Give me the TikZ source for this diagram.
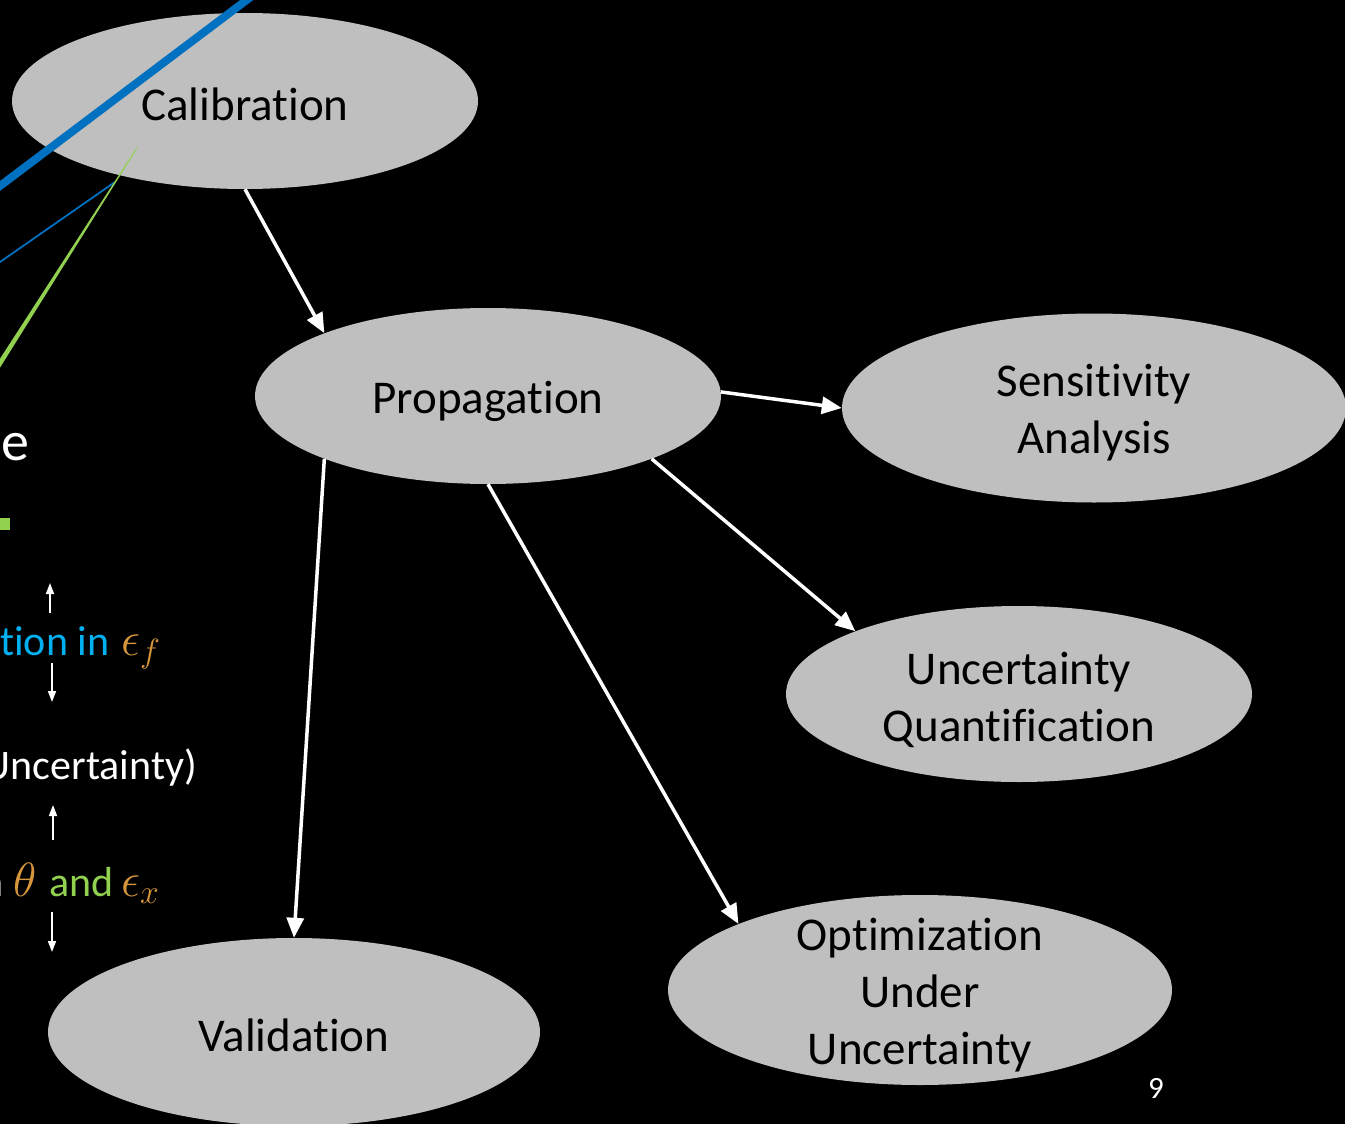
\RequirePackage{fix-cm}
\documentclass[tikz,border=0pt]{standalone}
\usepackage{fontspec}
\setmainfont{Carlito}[Ligatures=NoCommon, Contextuals=NoAlternate]
\usetikzlibrary{shapes.geometric,arrows.meta}
\definecolor{ellgray}{HTML}{BFBFBF}
\definecolor{cyantext}{HTML}{00B0F0}
\definecolor{orangem}{RGB}{214,150,60}
\definecolor{limeg}{HTML}{92D050}
\definecolor{blueline}{HTML}{0070C0}
\begin{document}
\begin{tikzpicture}[x=1pt,y=-1pt,
  bubble/.style={ellipse, fill=ellgray, inner sep=0pt, draw=none},
  btext/.style={inner sep=0pt, align=center, text=black, font=\fontsize{47}{57}\selectfont},
  flow/.style={draw=white, line width=3.5pt, -{Triangle[length=20pt,width=17pt]}},
  smallarr/.style={draw=white, line width=1.6pt, -{Triangle[length=11pt,width=8pt]}},
  side/.style={inner sep=0pt, font=\fontsize{42}{50}\selectfont},
  mathside/.style={inner sep=0pt, font=\fontsize{48}{54}\selectfont}]
\useasboundingbox (0,0) rectangle (1345,1124);
\fill[black] (0,0) rectangle (1345,1124);
\clip (0,0) rectangle (1345,1124);

% ellipses
\node[bubble, minimum width=466pt, minimum height=176pt] (cal) at (245,101) {};
\node[bubble, minimum width=466pt, minimum height=176pt] (prop) at (488,396) {};
\node[bubble, minimum width=504pt, minimum height=189pt] (sens) at (1094,408) {};
\node[bubble, minimum width=466pt, minimum height=176pt] (uq) at (1019,694) {};
\node[bubble, minimum width=504pt, minimum height=190pt] (ouu) at (920,990) {};
\node[bubble, minimum width=492pt, minimum height=188pt] (val) at (294,1032) {};

% texts
\node[btext] (caltxt) at (245,104) {Calibration};
\node[btext] (proptxt) at (488,401) {Propagation};
\node[btext] (senstxt) at (1094,413) {Sensitivity\\Analysis};
\node[btext] (uqtxt) at (1019,700) {Uncertainty\\Quantification};
\node[btext] (ouutxt) at (920,995) {Optimization\\Under\\Uncertainty};
\node[btext] (valtxt) at (294,1035) {Validation};

% connectors
\draw[flow] (cal.south) -- (prop.159.5);
\draw[flow] (prop.1) -- (sens.west);
\draw[flow] (prop.-21) -- (uq.159.5);
\draw[flow] (prop.south) -- (ouu.160);
\draw[flow] (prop.201) -- (val.north);

% left decorative lines
\coordinate (bA) at (-10,193.5);
\coordinate (bB) at (260,-10);
\draw[blueline, line width=8pt] (bA) -- (bB);
\coordinate (tA) at (-5,265.5);
\coordinate (tB) at (115,182);
\draw[blueline, line width=1.8pt] (tA) -- (tB);
\fill[limeg] (-7.1,369.7) -- (-2.9,372.3) -- (137.4,148) -- (136.6,147.6) -- cycle;

% left side text
\node[side, text=white, anchor=base east] (etxt) at (30,460) {\fontsize{56}{60}\selectfont e};
\fill[limeg] (0,518) rectangle (10,530);
\node[side, text=cyantext, anchor=base west] (line1) at (0,655) {tion in};
\node[mathside, text=orangem, anchor=base west] (epsf) at (121,655) {$\epsilon_f$};
\node[side, text=white, anchor=base east] (line2) at (197,779) {Uncertainty)};
\node[side, text=white, anchor=base east] (nchar) at (4,896) {n};
\node[mathside, text=orangem, anchor=base west] (thet) at (13,896) {$\theta$};
\node[side, text=limeg, anchor=base west] (andw) at (49,896) {and};
\node[mathside, text=orangem, anchor=base west] (epsx) at (121,896) {$\epsilon_x$};

% small arrows
\coordinate (u1t) at (50,613); \coordinate (u1h) at (50,583);
\coordinate (d1t) at (52,663); \coordinate (d1h) at (52,702);
\coordinate (u2t) at (53,840); \coordinate (u2h) at (53,805);
\coordinate (d2t) at (52,912); \coordinate (d2h) at (52,952);
\draw[smallarr] (u1t) -- (u1h);
\draw[smallarr] (d1t) -- (d1h);
\draw[smallarr] (u2t) -- (u2h);
\draw[smallarr] (d2t) -- (d2h);

% page number
\node[inner sep=0pt, text=white, font=\fontsize{31}{36}\selectfont] (pnum) at (1156,1088) {9};
\end{tikzpicture}
\end{document}
